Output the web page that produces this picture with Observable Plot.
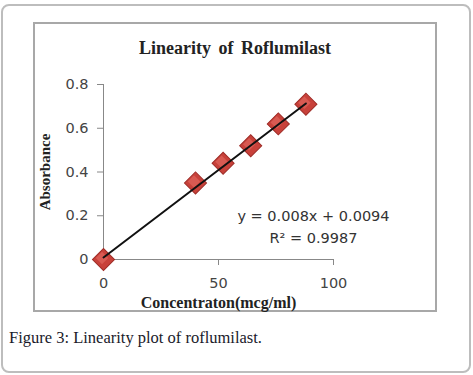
<!DOCTYPE html>
<html>
<head>
<meta charset="utf-8">
<script src="https://cdn.jsdelivr.net/npm/d3@7"></script>
<script src="https://cdn.jsdelivr.net/npm/@observablehq/plot@0.6"></script>
<style>
  html, body { margin: 0; padding: 0; background: #fff; }
  #outer {
    position: absolute; left: 1px; top: 4px; width: 466px; height: 365px;
    border: 2px solid #bdbdbd; border-radius: 8px; background: #fff;
  }
  #box {
    position: absolute; left: 33px; top: 22px; width: 400px; height: 286px;
    border: 2px solid #a8a8a8; background: #fff;
  }
  #title {
    position: absolute; left: 0; top: 0; width: 400px; height: 48px; line-height: 48px;
    text-align: center; font-family: "Liberation Serif", serif; font-weight: bold;
    font-size: 18px; word-spacing: 3px; color: #222;
  }
  #chart { position: absolute; left: 0; top: 48px; }
  #caption {
    position: absolute; left: 9px; top: 328px; font-family: "Liberation Serif", serif;
    font-size: 16.5px; color: #1a1a2a;
  }
</style>
</head>
<body>
<div id="outer"></div>
<div id="box">
  <div id="title">Linearity of Roflumilast</div>
  <div id="chart"></div>
</div>
<div id="caption">Figure 3: Linearity plot of roflumilast.</div>
<script>
const concentration = [0, 40, 52, 64, 76, 88];
const absorbance = [0, 0.35, 0.44, 0.52, 0.62, 0.71];
const xTicks = [0, 50, 100];
const yTicks = [0, 0.2, 0.4, 0.6, 0.8];
const slope = 0.008;
const intercept = 0.0094;
const equationLines = ["y = 0.008x + 0.0094", "R² = 0.9987"];
const xLabel = "Concentraton(mcg/ml)";
const yLabel = "Absorbance";

const points = concentration.map((c, i) => ({x: c, y: absorbance[i]}));
const fitLine = [0, 88].map(x => ({x, y: slope * x + intercept}));
const eqData = [
  {x: 91.3, y: 0.197, t: equationLines[0]},
  {x: 91.3, y: 0.096, t: equationLines[1]}
];
const tickFont = "DejaVu Sans, sans-serif";

const plot = Plot.plot({
  width: 400,
  height: 238,
  marginLeft: 68,
  marginRight: 102,
  marginTop: 12,
  marginBottom: 51,
  style: {background: "transparent", overflow: "visible"},
  x: {domain: [0, 100]},
  y: {domain: [0, 0.8]},
  marks: [
    Plot.ruleX([0], {y1: 0, y2: 0.8, stroke: "#888", strokeWidth: 1}),
    Plot.ruleY([0], {x1: 0, x2: 100, stroke: "#888", strokeWidth: 1}),
    Plot.axisY(yTicks, {tickSize: 6, tickPadding: 9, stroke: "#888", label: null,
      tickFormat: d => d === 0 ? "0" : d3.format(".1f")(d),
      fontSize: 14.5, fontFamily: tickFont, fill: "#444"}),
    Plot.axisX(xTicks, {tickSize: 6, tickPadding: 12, stroke: "#888", label: null,
      fontSize: 14.5, fontFamily: tickFont, fill: "#444"}),
    Plot.dot(points, {x: "x", y: "y", symbol: "square", r: 8.8, rotate: 45,
      fill: "#c8413a", stroke: "#9e2c27", strokeWidth: 1}),
    Plot.dot(points, {x: "x", y: "y", symbol: "square", r: 5, rotate: 45, dx: -1.5, dy: -1.5,
      fill: "#d85a52", stroke: "none"}),
    Plot.line(fitLine, {x: "x", y: "y", stroke: "#111", strokeWidth: 2}),
    Plot.text(eqData, {x: "x", y: "y", text: "t", textAnchor: "middle",
      fontSize: 14.5, fontFamily: tickFont, fill: "#333"}),
    Plot.text([xLabel], {frameAnchor: "bottom", lineAnchor: "middle", dy: 43, fontSize: 16,
      fontFamily: "Liberation Serif, serif", fontWeight: "bold", fill: "#222"}),
    Plot.text([yLabel], {frameAnchor: "left", textAnchor: "middle", dx: -58, rotate: -90, fontSize: 15,
      fontFamily: "Liberation Serif, serif", fontWeight: "bold", fill: "#222"})
  ]
});
document.getElementById("chart").appendChild(plot);
</script>
</body>
</html>
